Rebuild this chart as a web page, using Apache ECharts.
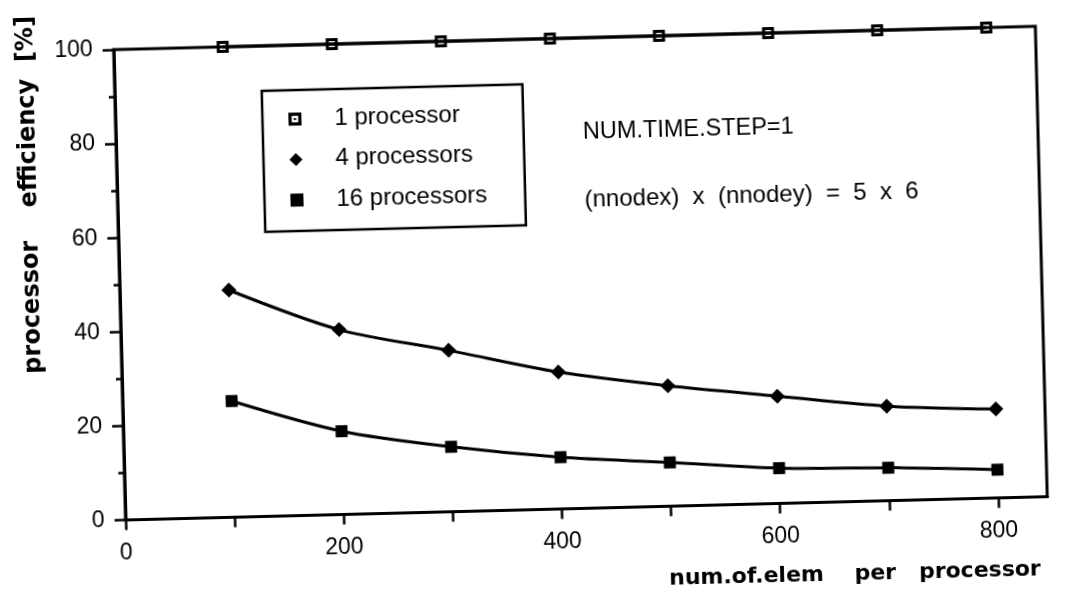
<!DOCTYPE html>
<html>
<head>
<meta charset="utf-8">
<script src="https://cdn.jsdelivr.net/npm/echarts@6/dist/echarts.min.js"></script>
<style>
  html, body { margin: 0; padding: 0; background: #fff; overflow: hidden; }
  #chart { width: 1075px; height: 592px; transform: rotate(-1.45deg); transform-origin: 50% 50%; }
</style>
</head>
<body>
<div id="chart"></div>
<script>
// ---- data ----
const elemPerProc = [100, 200, 300, 400, 500, 600, 700, 800];
const eff1 = [100, 100, 100, 100, 100, 100, 100, 100];
const eff4 = [48.3, 39.3, 34.3, 29.1, 25.6, 22.8, 20.1, 18.9];
const eff16 = [24.7, 17.7, 13.8, 11.0, 9.3, 7.5, 7.0, 6.0];
const seriesNames = ['1 processor', '4 processors', '16 processors'];
const xTickValues = [0, 100, 200, 300, 400, 500, 600, 700, 800];
const xLabelValues = [0, 200, 400, 600, 800];
const xTitle = 'num.of.elem    per   processor';
const yTitle = 'processor    efficiency  [%]';
const note1 = 'NUM.TIME.STEP=1';
const note2 = '(nnodex)  x  (nnodey)  =  5  x  6';

const hollowSquare = 'path://M0,0L12,0L12,12L0,12Z M3,3L3,9L9,9L9,3Z M5,5L7,5L7,7L5,7Z';
const SANS = '"Liberation Sans", Arial, sans-serif';
const BOLD = '"DejaVu Sans", sans-serif';

function pairs(ys) { return elemPerProc.map((x, i) => [x, ys[i]]); }

const chart = echarts.init(document.getElementById('chart'), null, { renderer: 'canvas' });

const baseSeries = {
  type: 'line',
  smooth: 0.3,
  clip: false,
  lineStyle: { color: '#000', width: 3 },
  itemStyle: { color: '#000', borderWidth: 0 },
  emphasis: { disabled: true },
  z: 3
};

chart.setOption({
  animation: false,
  backgroundColor: '#fff',
  grid: {
    left: 120, top: 39, width: 922, height: 470.5,
    show: true, borderColor: '#000', borderWidth: 3, backgroundColor: 'transparent'
  },
  xAxis: {
    type: 'value', min: 0, max: 845,
    axisLine: { show: true, lineStyle: { color: '#000', width: 3 } },
    axisTick: { show: true, customValues: xTickValues, length: 10, lineStyle: { color: '#000', width: 2.5 } },
    axisLabel: { customValues: xLabelValues, margin: 22, color: '#000', fontFamily: SANS, fontSize: 23 },
    splitLine: { show: false }
  },
  yAxis: {
    type: 'value', min: 0, max: 100, interval: 20,
    axisLine: { show: true, lineStyle: { color: '#000', width: 3 } },
    axisTick: { show: true, length: 11, lineStyle: { color: '#000', width: 2.5 } },
    minorTick: { show: true, splitNumber: 2, length: 6, lineStyle: { color: '#000', width: 2.5 } },
    axisLabel: { margin: 21, color: '#000', fontFamily: SANS, fontSize: 23 },
    splitLine: { show: false },
    minorSplitLine: { show: false }
  },
  legend: {
    data: [
      { name: seriesNames[0], icon: hollowSquare },
      { name: seriesNames[1], icon: 'diamond' },
      { name: seriesNames[2], icon: 'rect' }
    ],
    orient: 'vertical',
    left: 267, top: 84,
    padding: [17, 38, 19, 26],
    itemGap: 16.5,
    itemWidth: 13, itemHeight: 13,
    borderColor: '#000', borderWidth: 2.5,
    backgroundColor: '#fff',
    selectedMode: false,
    textStyle: { color: '#000', fontFamily: SANS, fontSize: 24, padding: [0, 0, 0, 28] }
  },
  graphic: [
    { type: 'text', x: 33, y: 182, rotation: Math.PI / 2,
      style: { text: yTitle, font: 'bold 24px ' + BOLD, fill: '#000', textAlign: 'center', textVerticalAlign: 'middle', verticalAlign: 'middle' } },
    { type: 'text', x: 662, y: 582,
      style: { text: xTitle, font: 'bold 22px ' + BOLD, fill: '#000', textAlign: 'left', textVerticalAlign: 'middle', verticalAlign: 'middle' } },
    { type: 'text', x: 587, y: 134,
      style: { text: note1, font: '23.5px ' + SANS, fill: '#000', textAlign: 'left', textVerticalAlign: 'middle', verticalAlign: 'middle' } },
    { type: 'text', x: 587, y: 201,
      style: { text: note2, font: '24px ' + SANS, fill: '#000', textAlign: 'left', textVerticalAlign: 'middle', verticalAlign: 'middle' } }
  ],
  series: [
    Object.assign({}, baseSeries, { name: seriesNames[0], data: pairs(eff1), symbol: hollowSquare, symbolSize: 12, smooth: false }),
    Object.assign({}, baseSeries, { name: seriesNames[1], data: pairs(eff4), symbol: 'diamond', symbolSize: 15 }),
    Object.assign({}, baseSeries, { name: seriesNames[2], data: pairs(eff16), symbol: 'rect', symbolSize: 12 })
  ]
});
</script>
</body>
</html>
